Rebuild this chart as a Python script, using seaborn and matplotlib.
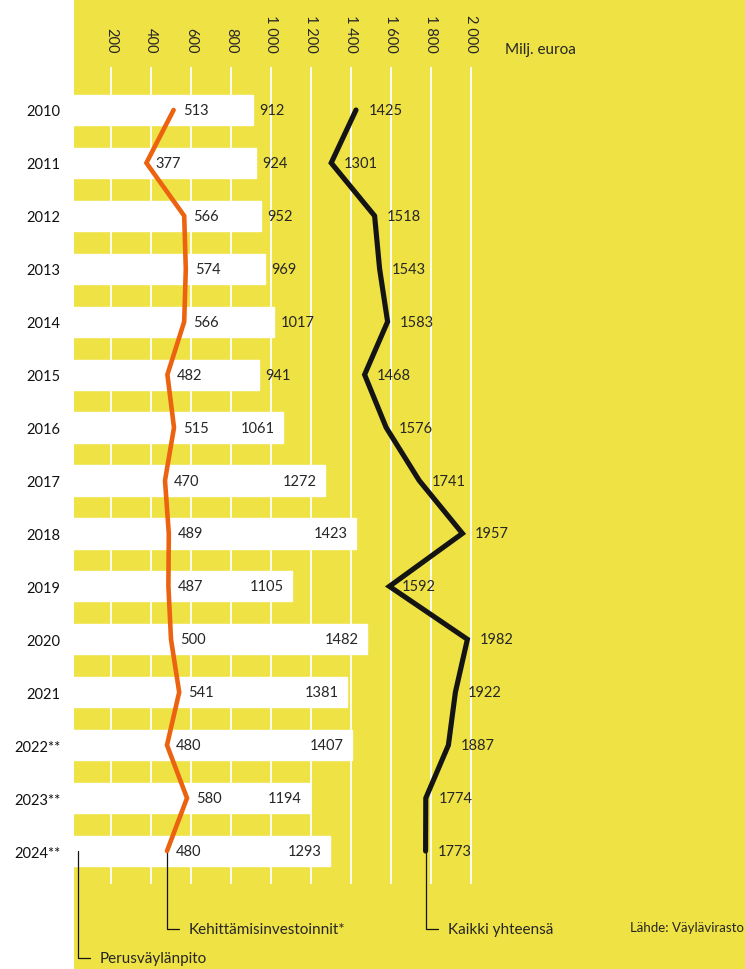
import numpy as np
import seaborn as sns
from matplotlib import pyplot as plt

years = ['2010', '2011', '2012', '2013', '2014', '2015', '2016', '2017',
         '2018', '2019', '2020', '2021', '2022**', '2023**', '2024**']
perus = [912, 924, 952, 969, 1017, 941, 1061, 1272, 1423, 1105, 1482, 1381, 1407, 1194, 1293]
kehitys = [513, 377, 566, 574, 566, 482, 515, 470, 489, 487, 500, 541, 480, 580, 480]
kaikki = [1425, 1301, 1518, 1543, 1583, 1468, 1576, 1741, 1957, 1592, 1982, 1922, 1887, 1774, 1773]
grid_ticks = [200, 400, 600, 800, 1000, 1200, 1400, 1600, 1800, 2000]
grid_labels = ['200', '400', '600', '800', '1 000', '1 200', '1 400', '1 600', '1 800', '2 000']

YELLOW = '#EFE244'
ORANGE = '#EB6310'
BLACK = '#141414'

sns.set_style('white')
plt.rcParams['font.family'] = ['Lato', 'DejaVu Sans']

fig = plt.figure(figsize=(7.45, 9.7), dpi=100)
ax = fig.add_axes([74 / 745, 0, 1 - 74 / 745, 1])
ax.set_facecolor(YELLOW)

pos = np.arange(len(years))

# white gridlines behind the bars
ax.vlines(grid_ticks, -0.81, 14.62, color='white', lw=1.3, zorder=0)

sns.barplot(x=perus, y=years, orient='h', color='white', saturation=1,
            width=0.57, ax=ax, zorder=1)

sns.lineplot(x=kehitys, y=pos, orient='y', sort=False, estimator=None,
             color=ORANGE, lw=3.3, solid_joinstyle='miter', ax=ax, zorder=3)
sns.lineplot(x=kaikki, y=pos, orient='y', sort=False, estimator=None,
             color=BLACK, lw=3.7, solid_joinstyle='miter', ax=ax, zorder=3)

ax.set_xlim(15, 3370)
ax.set_ylim(16.229, -2.097)
for s in ax.spines.values():
    s.set_visible(False)
ax.set_xticks([])
ax.set_xlabel('')
ax.set_ylabel('')
ax.tick_params(axis='y', length=0, pad=10, labelsize=10.5, labelcolor='#111111')

fs = 10.5
# value labels
for i in range(len(years)):
    ax.annotate(str(kehitys[i]), (kehitys[i], i), xytext=(6.5, 0),
                textcoords='offset points', va='center', fontsize=fs, zorder=4)
    ax.annotate(str(kaikki[i]), (kaikki[i], i), xytext=(9, 0),
                textcoords='offset points', va='center', fontsize=fs, zorder=4)
    if perus[i] > 1050:
        ax.annotate(str(perus[i]), (perus[i], i), xytext=(-6, 0),
                    textcoords='offset points', va='center', ha='right',
                    fontsize=fs, zorder=4)
    else:
        ax.annotate(str(perus[i]), (perus[i], i), xytext=(4.5, 0),
                    textcoords='offset points', va='center', ha='left',
                    fontsize=fs, zorder=4)

# top scale labels
for t, lab in zip(grid_ticks, grid_labels):
    ax.text(t, 1 - 53 / 970, lab, rotation=-90, ha='center', va='bottom',
            fontsize=fs, transform=ax.get_xaxis_transform())
fig.text(505 / 745, 1 - 50 / 970, 'Milj. euroa', fontsize=11, va='center')

# series callouts at the bottom
callouts = [(35, 16.03, 'Perusväylänpito'),
            (kehitys[-1], 15.47, 'Kehittämisinvestoinnit*'),
            (kaikki[-1], 15.47, 'Kaikki yhteensä')]
for x0, y1, lab in callouts:
    ax.plot([x0, x0, x0 + 60], [14, y1, y1], color=BLACK, lw=0.9,
            clip_on=False, zorder=2)
    ax.text(x0 + 110, y1, lab, fontsize=11, va='center')

fig.text(0.999, 1 - 928 / 970, 'Lähde: Väylävirasto', fontsize=9.5,
         ha='right', va='center')

fig.savefig('out.png', dpi=100, facecolor='white')
